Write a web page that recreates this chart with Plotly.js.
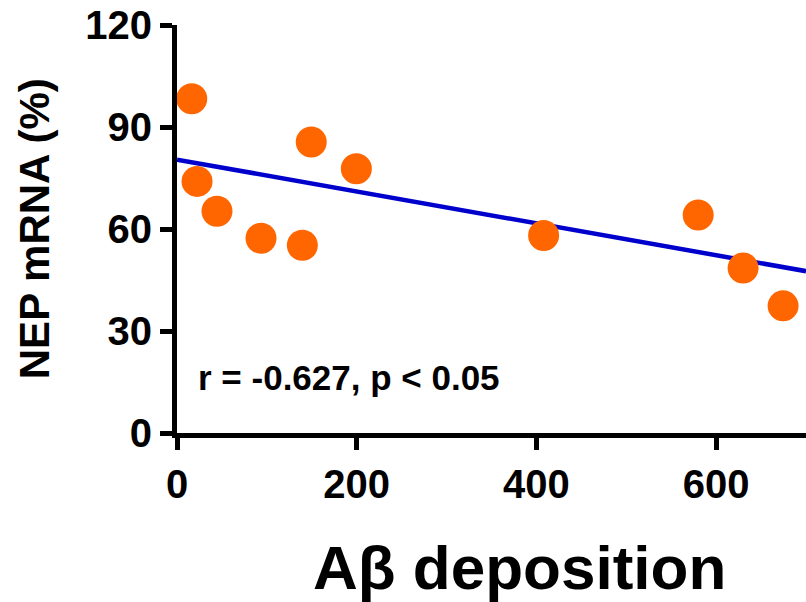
<!DOCTYPE html>
<html>
<head>
<meta charset="utf-8">
<script src="https://cdn.plot.ly/plotly-3.0.1.min.js"></script>
<style>html,body{margin:0;padding:0;background:#fff;}#chart{width:806px;height:602px;}</style>
</head>
<body>
<div id="chart"></div>
<script>
// Data
var abetaDeposition = [16.4, 22.3, 44.5, 93.5, 139.5, 149.4, 199.6, 408, 580, 630, 674.5];
var nepMrna = [98.3, 74.0, 65.2, 57.3, 55.2, 85.6, 77.7, 58.1, 64.1, 48.5, 37.4];
var fitX = [0, 700];
var fitY = [80.4, 47.6];
var xTickVals = [0, 200, 400, 600];
var yTickVals = [0, 30, 60, 90, 120];
var statText = "r = -0.627, p < 0.05";
var xTitle = "A\u03b2 deposition";
var yTitle = "NEP mRNA (%)";

var FONT = "Liberation Sans, Arial, Helvetica, sans-serif";

var traces = [
  {
    x: fitX, y: fitY, type: "scatter", mode: "lines",
    line: {color: "#0000CC", width: 4.5},
    hoverinfo: "skip", showlegend: false, cliponaxis: false
  },
  {
    x: abetaDeposition, y: nepMrna, type: "scatter", mode: "markers",
    marker: {color: "#FF6600", size: 31, line: {width: 0}},
    showlegend: false, cliponaxis: false
  }
];

var axisCommon = {
  showline: true, linecolor: "#000", linewidth: 5,
  ticks: "outside", ticklen: 12, tickwidth: 5, tickcolor: "#000",
  showgrid: false, zeroline: false,
  tickfont: {family: FONT, size: 40, color: "#000", weight: "bold"}
};

var layout = {
  width: 806, height: 602,
  margin: {l: 177, r: 0, t: 25, b: 169},
  paper_bgcolor: "#fff", plot_bgcolor: "#fff",
  showlegend: false,
  xaxis: Object.assign({}, axisCommon, {
    range: [0, 700], tickvals: xTickVals, ticktext: xTickVals.map(String),
    fixedrange: true
  }),
  yaxis: Object.assign({}, axisCommon, {
    range: [0, 120], tickvals: yTickVals, ticktext: yTickVals.map(String),
    fixedrange: true
  }),
  annotations: [
    {
      text: statText, xref: "paper", yref: "paper", x: 0.031, y: 0.137,
      xanchor: "left", yanchor: "middle", showarrow: false,
      font: {family: FONT, size: 35, color: "#000", weight: "bold"}
    },
    {
      text: xTitle, xref: "paper", yref: "paper", x: 0.545, y: -0.33,
      xanchor: "center", yanchor: "middle", showarrow: false,
      font: {family: FONT, size: 62, color: "#000", weight: "bold"}
    },
    {
      text: yTitle, xref: "paper", yref: "paper", x: -0.227, y: 0.5,
      xanchor: "center", yanchor: "middle", showarrow: false, textangle: -90,
      font: {family: FONT, size: 42, color: "#000", weight: "bold"}
    }
  ]
};

Plotly.newPlot("chart", traces, layout, {displayModeBar: false, staticPlot: true});
</script>
</body>
</html>
